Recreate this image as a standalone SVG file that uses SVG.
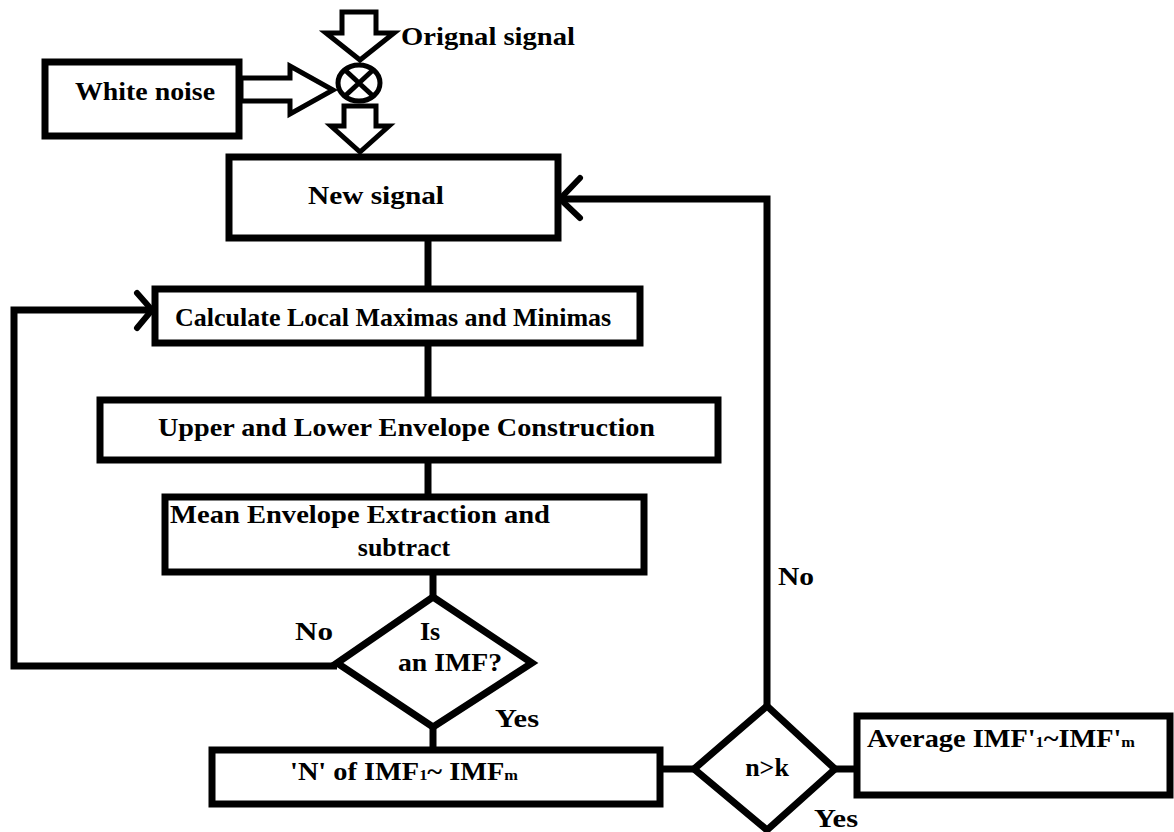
<svg xmlns="http://www.w3.org/2000/svg" width="1174" height="832" viewBox="0 0 1174 832">
<style>
.box{fill:#fff;stroke:#000;stroke-width:7}
.ln{fill:none;stroke:#000;stroke-width:7}
.hol{fill:#fff;stroke:#000;stroke-width:5;stroke-linejoin:miter}
.ah{fill:none;stroke:#000;stroke-width:6;stroke-linecap:round}
text{font-family:"Liberation Serif","Times New Roman",serif;font-weight:bold;font-size:26px;fill:#000}
.sub{font-size:15px}
</style>
<rect width="1174" height="832" fill="#fff"/>
<g id="connectors">
<polyline class="ln" points="428,238 428,289"/>
<polyline class="ln" points="428,343 428,400"/>
<polyline class="ln" points="428,460 428,497"/>
<polyline class="ln" points="433,572 433,597"/>
<polyline class="ln" points="433,727 433,750"/>
<polyline class="ln" points="337,666 14,666 14,310 150,310"/>
<polyline class="ah" points="137,293 152,310 137,328"/>
<polyline class="ln" points="660,769 694,769"/>
<polyline class="ln" points="835,769 857,769"/>
<polyline class="ln" points="767,706 767,199 560,199"/>
<polyline class="ah" points="580,178 560,199 580,218"/>
<polygon class="hol" points="241,78 290,78 290,66 333,90 290,114 290,101 241,101"/>
<polygon class="hol" points="342,12 376,12 376,33 394,33 360,60 326,33 342,33"/>
<polygon class="hol" points="344,106 376,106 376,126 389,126 360,152 331,126 344,126"/>
</g>
<g id="white-noise">
<rect class="box" x="45" y="62" width="194" height="74"/>
<text x="75" y="100" textLength="140" lengthAdjust="spacingAndGlyphs">White noise</text>
</g>
<g id="original-signal">
<text x="401" y="45" textLength="174" lengthAdjust="spacingAndGlyphs">Orignal signal</text>
</g>
<g id="mixer">
<ellipse cx="359" cy="83" rx="21" ry="18" fill="#fff" stroke="#000" stroke-width="5"/>
<path d="M345,70 L373,96 M373,70 L345,96" stroke="#000" stroke-width="5" fill="none"/>
</g>
<g id="new-signal">
<rect class="box" x="229" y="157" width="329" height="81" stroke-width="8"/>
<text x="308" y="204" textLength="136" lengthAdjust="spacingAndGlyphs">New signal</text>
</g>
<g id="calculate">
<rect class="box" x="155" y="289" width="485" height="54"/>
<text x="175" y="326">Calculate Local Maximas and Minimas</text>
</g>
<g id="upper-lower">
<rect class="box" x="100" y="400" width="618" height="60"/>
<text x="158" y="436" textLength="497" lengthAdjust="spacingAndGlyphs">Upper and Lower Envelope Construction</text>
</g>
<g id="mean">
<rect class="box" x="165" y="497" width="479" height="75"/>
<text x="170" y="523" textLength="380" lengthAdjust="spacingAndGlyphs">Mean Envelope Extraction and</text>
<text x="404" y="556" text-anchor="middle">subtract</text>
</g>
<g id="is-imf">
<polygon class="box" points="433,597 532,663 433,727 337,663"/>
<text x="430" y="640" text-anchor="middle">Is</text>
<text x="398" y="671" textLength="104" lengthAdjust="spacingAndGlyphs">an IMF?</text>
</g>
<text x="295" y="640" textLength="38" lengthAdjust="spacingAndGlyphs">No</text>
<text x="495" y="727" textLength="44" lengthAdjust="spacingAndGlyphs">Yes</text>
<g id="n-imf">
<rect class="box" x="212" y="750" width="448" height="54"/>
<text x="290" y="780" textLength="228" lengthAdjust="spacingAndGlyphs">'N' of IMF<tspan class="sub">1</tspan>~ IMF<tspan class="sub">m</tspan></text>
</g>
<g id="n-gt-k">
<polygon class="box" points="767,706 835,769 767,830 694,769"/>
<text x="767" y="776" text-anchor="middle">n&gt;k</text>
</g>
<text x="814" y="827" textLength="44" lengthAdjust="spacingAndGlyphs">Yes</text>
<text x="778" y="585" textLength="36" lengthAdjust="spacingAndGlyphs">No</text>
<g id="average">
<rect class="box" x="857" y="716" width="313" height="79"/>
<text x="867" y="747" textLength="268" lengthAdjust="spacingAndGlyphs">Average IMF'<tspan class="sub">1</tspan>~IMF'<tspan class="sub">m</tspan></text>
</g>
</svg>
